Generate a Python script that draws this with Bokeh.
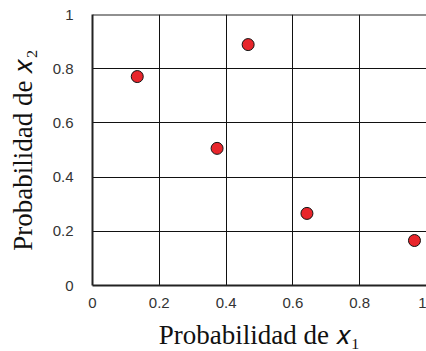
from bokeh.plotting import figure
from bokeh.models import Range1d, FixedTicker, Span
from bokeh.embed import file_html
from bokeh.resources import INLINE

px1 = [0.134, 0.373, 0.466, 0.642, 0.964]
px2 = [0.771, 0.506, 0.889, 0.266, 0.166]
ticks = [0, 0.2, 0.4, 0.6, 0.8, 1]
tick_labels = {0: "0", 0.2: "0.2", 0.4: "0.4", 0.6: "0.6", 0.8: "0.8", 1: "1"}

p = figure(frame_width=334, frame_height=271, output_backend="svg", toolbar_location=None,
           x_range=Range1d(0, 1.0), y_range=Range1d(0, 1))
p.min_border_left = 92
p.min_border_right = 0
p.min_border_top = 14
p.min_border_bottom = 66
p.outline_line_color = None
p.background_fill_color = "white"
p.border_fill_color = "white"

for ax in (p.xaxis[0], p.yaxis[0]):
    ax.ticker = FixedTicker(ticks=ticks)
    ax.major_label_overrides = tick_labels
    ax.major_tick_line_color = None
    ax.minor_tick_line_color = None
    ax.axis_line_color = "#222222"
    ax.axis_line_width = 2
    ax.major_label_text_font = "Liberation Sans"
    ax.major_label_text_font_size = "15px"
    ax.major_label_text_color = "#333333"
    ax.axis_label_text_font = "Liberation Serif"
    ax.axis_label_text_font_style = "normal"
    ax.axis_label_text_font_size = "27px"
    ax.axis_label_text_color = "#111111"

p.xaxis[0].axis_label = "Probabilidad de 𝑥₁"
p.yaxis[0].axis_label = "Probabilidad de 𝑥₂"
p.xaxis[0].major_label_standoff = 6
p.yaxis[0].major_label_standoff = 13
p.xaxis[0].axis_label_standoff = 9
p.yaxis[0].axis_label_standoff = 12

p.xgrid.ticker = FixedTicker(ticks=[0.2, 0.4, 0.6, 0.8])
p.ygrid.ticker = FixedTicker(ticks=[0.2, 0.4, 0.6, 0.8])
p.grid.grid_line_color = "#111111"
p.grid.grid_line_width = 1
p.grid.grid_line_alpha = 1

p.add_layout(Span(location=1, dimension="width", line_color="#222222", line_width=2))

p.scatter(px1, px2, size=12, fill_color="#e8252b", line_color="#111111", line_width=1)

open("out.html", "w").write(file_html(p, INLINE))
